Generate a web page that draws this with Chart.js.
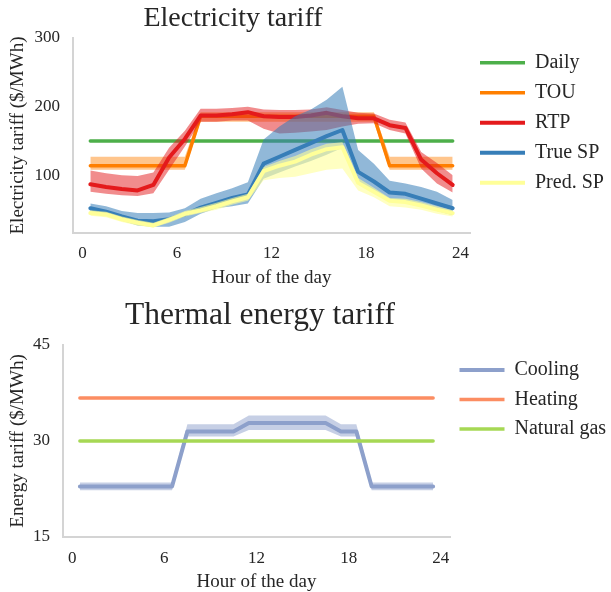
<!DOCTYPE html>
<html lang="en">
<head>
<meta charset="utf-8">
<title>Electricity and thermal energy tariffs</title>
<script src="https://cdn.jsdelivr.net/npm/chart.js@4.4.1/dist/chart.umd.min.js"></script>
<style>
    html, body { margin: 0; padding: 0; background: #fff; overflow: hidden; }
    #page { position: relative; width: 611px; height: 592px; overflow: hidden; }
    .chart-title {
        position: absolute;
        font-family: 'Liberation Serif', 'Times New Roman', serif;
        color: #262626;
        line-height: 1;
        white-space: nowrap;
        transform: translateX(-50%);
    }
    #elecTitle { left: 233px; top: 3px; font-size: 28px; }
    #thermTitle { left: 260px; top: 298px; font-size: 31.5px; }
    canvas { position: absolute; left: 0; }
    #elecChart { top: 0; }
    #thermChart { top: 295px; }
</style>
</head>
<body>
<div id="page">
    <canvas id="elecChart" width="611" height="300"></canvas>
    <canvas id="thermChart" width="611" height="305"></canvas>
    <div class="chart-title" id="elecTitle">Electricity tariff</div>
    <div class="chart-title" id="thermTitle">Thermal energy tariff</div>
</div>
<script>
const hours = [0.5, 1.5, 2.5, 3.5, 4.5, 5.5, 6.5, 7.5, 8.5, 9.5, 10.5, 11.5,
               12.5, 13.5, 14.5, 15.5, 16.5, 17.5, 18.5, 19.5, 20.5, 21.5, 22.5, 23.5];
const hourTicks = [0, 6, 12, 18, 24];

// Electricity tariff ($/MWh)
const elecTicks = [100, 200, 300];
const daily = [150, 150, 150, 150, 150, 150, 150, 150, 150, 150, 150, 150,
               150, 150, 150, 150, 150, 150, 150, 150, 150, 150, 150, 150];
const tou = [114, 114, 114, 114, 114, 114, 114, 186, 186, 186, 186, 186,
             186, 186, 186, 186, 186, 186, 186, 114, 114, 114, 114, 114];
const touUpper = [127, 127, 127, 127, 127, 127, 127, 192, 192, 192, 192, 192,
                  192, 192, 192, 192, 192, 192, 192, 127, 127, 127, 127, 127];
const touLower = [108, 108, 108, 108, 108, 108, 108, 178, 178, 178, 178, 178,
                  178, 178, 178, 178, 178, 178, 178, 108, 108, 108, 108, 108];
const rtp = [87, 83, 80, 78, 86, 126, 153, 187, 187, 189, 192, 186,
             185, 185, 187, 191, 186, 183, 183, 173, 169, 123, 103, 86];
const rtpUpper = [107, 103, 100, 99, 104, 140, 165, 197, 197, 198, 200, 196,
                  195, 195, 196, 199, 195, 191, 190, 181, 177, 134, 118, 100];
const rtpLower = [76, 73, 71, 70, 74, 108, 142, 178, 178, 180, 180, 168,
                  161, 162, 164, 166, 171, 175, 176, 166, 161, 110, 88, 75];
const trueSp = [52, 47, 40, 34, 33, 36, 43, 53, 60, 67, 72, 117,
                127, 137, 147, 157, 166, 105, 91, 75, 73, 66, 59, 52];
const trueSpUpper = [59, 55, 48, 45, 45, 46, 52, 66, 74, 81, 90, 152,
                     171, 186, 196, 210, 229, 137, 117, 92, 88, 83, 76, 64];
const trueSpLower = [47, 42, 34, 27, 25, 25, 32, 44, 52, 55, 59, 95,
                     104, 113, 121, 130, 140, 90, 78, 63, 61, 55, 48, 42];
const predSp = [45, 43, 36, 31, 27, 35, 44, 49, 55, 62, 68, 106,
                114, 120, 130, 138, 141, 89, 76, 63, 61, 56, 50, 45];
const predSpUpper = [49, 47, 40, 35, 31, 39, 48, 54, 60, 67, 73, 112,
                     121, 128, 138, 146, 148, 96, 82, 67, 66, 61, 55, 49];
const predSpLower = [41, 39, 32, 27, 24, 31, 40, 45, 50, 57, 63, 93,
                     96, 98, 103, 108, 110, 78, 68, 55, 53, 50, 44, 40];

// Thermal energy tariff ($/MWh)
const thermTicks = [15, 30, 45];
const cooling = [22.9, 22.9, 22.9, 22.9, 22.9, 22.9, 22.9, 31.5, 31.5, 31.5, 31.5, 32.8,
                 32.8, 32.8, 32.8, 32.8, 32.8, 31.5, 31.5, 22.9, 22.9, 22.9, 22.9, 22.9];
const coolingUpper = [23.5, 23.5, 23.5, 23.5, 23.5, 23.5, 23.5, 32.6, 32.6, 32.6, 32.6, 34.0,
                      34.0, 34.0, 34.0, 34.0, 34.0, 32.6, 32.6, 23.5, 23.5, 23.5, 23.5, 23.5];
const coolingLower = [22.3, 22.3, 22.3, 22.3, 22.3, 22.3, 22.3, 30.7, 30.7, 30.7, 30.7, 31.7,
                      31.7, 31.7, 31.7, 31.7, 31.7, 30.7, 30.7, 22.3, 22.3, 22.3, 22.3, 22.3];
const heating = [36.7, 36.7, 36.7, 36.7, 36.7, 36.7, 36.7, 36.7, 36.7, 36.7, 36.7, 36.7,
                 36.7, 36.7, 36.7, 36.7, 36.7, 36.7, 36.7, 36.7, 36.7, 36.7, 36.7, 36.7];
const naturalGas = [30, 30, 30, 30, 30, 30, 30, 30, 30, 30, 30, 30,
                    30, 30, 30, 30, 30, 30, 30, 30, 30, 30, 30, 30];

const SERIF = "'Liberation Serif', 'Times New Roman', serif";
const TEXT = '#262626';
const AXIS = '#d4d4d4';

// legend box is kept narrow (maxWidth) so the plot width stays fixed;
// widen its clip region afterwards so the label text is not cut off
const legendOverflow = {
    id: 'legendOverflow',
    afterLayout: function(chart) {
        chart.legend.right = chart.width;
        chart.legend.width = chart.width - chart.legend.left;
    }
};

function toPoints(values) {
    return hours.map(function(h, i) { return { x: h, y: values[i] }; });
}

// each series: optional shaded band (lower, upper filled to lower), then its line;
// later series are drawn over earlier ones
function buildDatasets(series) {
    const out = [];
    let order = 100;
    series.forEach(function(s) {
        if (s.lower) {
            out.push({ data: toPoints(s.lower), band: true, borderColor: 'transparent', borderWidth: 0,
                       pointRadius: 0, fill: false, order: order-- });
            out.push({ data: toPoints(s.upper), band: true, borderColor: 'transparent', borderWidth: 0,
                       pointRadius: 0, backgroundColor: s.band, fill: '-1', order: order-- });
        }
        out.push({ label: s.label, data: toPoints(s.values), borderColor: s.color, backgroundColor: s.color,
                   borderWidth: s.width, pointRadius: 0, borderCapStyle: 'round', borderJoinStyle: 'round',
                   fill: false, order: order-- });
    });
    return out;
}

function buildOptions(cfg) {
    return {
        responsive: false,
        animation: false,
        layout: { padding: cfg.padding },
        plugins: {
            title: { display: false },
            tooltip: { enabled: false },
            legend: {
                position: 'right',
                align: 'start',
                fullSize: false,
                maxWidth: 120,
                title: { display: true, text: '', font: { size: cfg.legendGap }, padding: 0 },
                labels: {
                    usePointStyle: true,
                    pointStyle: 'line',
                    pointStyleWidth: 45,
                    padding: cfg.legendPadding,
                    color: TEXT,
                    font: { family: SERIF, size: 20 },
                    filter: function(item, data) { return !data.datasets[item.datasetIndex].band; },
                    sort: function(a, b) { return a.datasetIndex - b.datasetIndex; }
                }
            }
        },
        scales: {
            x: {
                type: 'linear',
                min: -0.6,
                max: 24.6,
                afterBuildTicks: function(axis) { axis.ticks = hourTicks.map(function(v) { return { value: v }; }); },
                afterFit: function(axis) { axis.height = cfg.xHeight; },
                grid: { display: false, drawTicks: false },
                border: { display: true, color: AXIS, width: 2 },
                ticks: { padding: cfg.xTickPad, color: TEXT, maxRotation: 0, autoSkip: false,
                         font: { family: SERIF, size: 17 } },
                title: { display: true, text: 'Hour of the day', color: TEXT, padding: 0,
                         font: { family: SERIF, size: 19 } }
            },
            y: {
                min: cfg.yMin,
                max: cfg.yMax,
                afterBuildTicks: function(axis) { axis.ticks = cfg.yTicks.map(function(v) { return { value: v }; }); },
                afterFit: function(axis) { axis.width = cfg.yWidth; },
                grid: { display: false, drawTicks: false },
                border: { display: true, color: AXIS, width: 2 },
                ticks: { padding: 13, color: TEXT, font: { family: SERIF, size: 17 } },
                title: { display: true, text: cfg.yTitle, color: TEXT, padding: { top: 7, bottom: 0 },
                         font: { family: SERIF, size: 19 } }
            }
        }
    };
}

new Chart(document.getElementById('elecChart'), {
    type: 'line',
    data: {
        datasets: buildDatasets([
            { label: 'Daily', values: daily, color: '#4daf4a', width: 3.5 },
            { label: 'TOU', values: tou, upper: touUpper, lower: touLower, color: '#ff7f00', width: 3.5,
              band: 'rgba(255, 127, 0, 0.45)' },
            { label: 'RTP', values: rtp, upper: rtpUpper, lower: rtpLower, color: '#e41a1c', width: 4,
              band: 'rgba(228, 26, 28, 0.5)' },
            { label: 'True SP', values: trueSp, upper: trueSpUpper, lower: trueSpLower, color: '#377eb8', width: 4,
              band: 'rgba(55, 126, 184, 0.55)' },
            { label: 'Pred. SP', values: predSp, upper: predSpUpper, lower: predSpLower, color: '#ffff99', width: 4,
              band: 'rgba(255, 255, 153, 0.6)' }
        ])
    },
    options: buildOptions({
        padding: { top: 38, left: 0, right: 21, bottom: 11 },
        xHeight: 56, xTickPad: 10,
        yMin: 16, yMax: 300, yTicks: elecTicks, yWidth: 73,
        yTitle: 'Electricity tariff ($/MWh)',
        legendGap: 4, legendPadding: 10
    }),
    plugins: [legendOverflow]
});

new Chart(document.getElementById('thermChart'), {
    type: 'line',
    data: {
        datasets: buildDatasets([
            { label: 'Cooling', values: cooling, upper: coolingUpper, lower: coolingLower, color: '#8da0cb', width: 4,
              band: 'rgba(141, 160, 203, 0.5)' },
            { label: 'Heating', values: heating, color: '#fc8d62', width: 3.5 },
            { label: 'Natural gas', values: naturalGas, color: '#a6d854', width: 3.5 }
        ])
    },
    options: buildOptions({
        padding: { top: 50, left: 0, right: 41, bottom: 7 },
        xHeight: 56, xTickPad: 11,
        yMin: 15, yMax: 45, yTicks: thermTicks, yWidth: 63,
        yTitle: 'Energy tariff ($/MWh)',
        legendGap: 4.6, legendPadding: 9.5
    }),
    plugins: [legendOverflow]
});
</script>
</body>
</html>
